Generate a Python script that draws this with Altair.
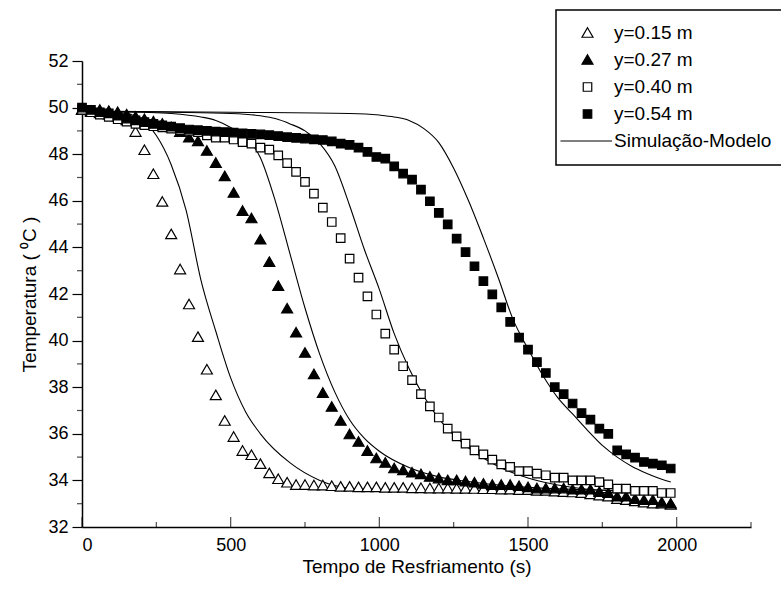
import altair as alt
import pandas as pd

# ---------------- data ----------------
time_s = [0, 30, 60, 90, 120, 150, 180, 210, 240, 270, 300, 330, 360, 390, 420, 450,
          480, 510, 540, 570, 600, 630, 660, 690, 720, 750, 780, 810, 840, 870, 900,
          930, 960, 990, 1020, 1050, 1080, 1110, 1140, 1170, 1200, 1230, 1260, 1290,
          1320, 1350, 1380, 1410, 1440, 1470, 1500, 1530, 1560, 1590, 1620, 1650, 1680,
          1710, 1740, 1770, 1800, 1830, 1860, 1890, 1920, 1950, 1980]

temp_015 = [49.9, 49.8, 49.75, 49.7, 49.6, 49.45, 48.95, 48.17, 47.14, 45.95, 44.56,
            43.05, 41.55, 40.15, 38.75, 37.65, 36.55, 35.86, 35.26, 35.08, 34.7, 34.3,
            34.05, 33.9, 33.8, 33.8, 33.78, 33.78, 33.75, 33.72, 33.72, 33.7, 33.7, 33.7,
            33.68, 33.68, 33.68, 33.66, 33.66, 33.65, 33.65, 33.65, 33.64, 33.64, 33.63,
            33.62, 33.62, 33.6, 33.6, 33.58, 33.58, 33.55, 33.55, 33.52, 33.5, 33.48,
            33.45, 33.4, 33.35, 33.3, 33.2, 33.15, 33.1, 33.05, 33.0, 33.0, 32.95]

temp_027 = [49.9, 49.85, 49.9, 49.85, 49.8, 49.7, 49.6, 49.5, 49.4, 49.3, 49.15, 48.95,
            48.71, 48.55, 48.14, 47.62, 47.05, 46.34, 45.56, 45.24, 44.33, 43.37, 42.34,
            41.37, 40.34, 39.47, 38.55, 37.75, 37.15, 36.55, 35.97, 35.65, 35.26, 34.94,
            34.75, 34.51, 34.43, 34.33, 34.26, 34.15, 34.08, 34.0, 34.0, 33.95, 33.9,
            33.85, 33.8, 33.8, 33.8, 33.75, 33.7, 33.65, 33.65, 33.65, 33.65, 33.6, 33.6,
            33.6, 33.5, 33.45, 33.3, 33.3, 33.2, 33.15, 33.15, 33.05, 33.0]

temp_040 = [49.9, 49.8, 49.7, 49.6, 49.5, 49.4, 49.3, 49.25, 49.2, 49.15, 49.1, 49.05,
            49.0, 48.95, 48.81, 48.71, 48.71, 48.63, 48.52, 48.45, 48.28, 48.2, 47.95,
            47.62, 47.24, 46.81, 46.31, 45.71, 45.09, 44.4, 43.52, 42.7, 41.9, 41.12,
            40.3, 39.61, 38.9, 38.3, 37.7, 37.18, 36.7, 36.22, 35.89, 35.58, 35.29,
            35.12, 34.89, 34.69, 34.58, 34.4, 34.4, 34.29, 34.22, 34.12, 34.12, 34.0,
            34.0, 34.0, 33.93, 33.83, 33.65, 33.65, 33.55, 33.55, 33.55, 33.46, 33.46]

temp_054 = [50.0, 49.9, 49.8, 49.75, 49.65, 49.53, 49.45, 49.38, 49.3, 49.24, 49.18,
            49.12, 49.06, 49.03, 49.0, 48.97, 48.95, 48.93, 48.9, 48.87, 48.85, 48.82,
            48.78, 48.73, 48.7, 48.67, 48.64, 48.61, 48.55, 48.45, 48.4, 48.28, 48.1,
            47.88, 47.81, 47.48, 47.17, 46.91, 46.48, 45.98, 45.48, 44.99, 44.38, 43.8,
            43.19, 42.55, 41.98, 41.43, 40.8, 40.13, 39.61, 39.08, 38.61, 38.0, 37.7,
            37.3, 36.89, 36.61, 36.22, 36.0, 35.29, 35.12, 34.98, 34.79, 34.72, 34.65,
            34.51]

series_names = ["y=0.15 m", "y=0.27 m", "y=0.40 m", "y=0.54 m"]
model_label = "Simulação-Modelo"

# simulation curves (model), read at anchor times
sim1_t = [0, 100, 150, 200, 250, 300, 350, 400, 450, 500, 550, 600, 700, 800, 900, 1000, 1500, 1980]
sim1_T = [49.85, 49.8, 49.75, 49.5, 48.8, 47.55, 45.6, 42.6, 40.4, 38.4, 36.95, 36.0, 34.75, 34.0, 33.65, 33.55, 33.5, 33.45]

sim2_t = [0, 200, 300, 400, 450, 500, 550, 600, 650, 700, 750, 800, 850, 900, 950, 1000, 1100, 1200, 1300, 1500, 1700, 1980]
sim2_T = [49.85, 49.8, 49.75, 49.6, 49.45, 49.15, 48.75, 47.85, 46.0, 43.7, 41.4, 39.4, 37.8, 36.6, 35.8, 35.25, 34.55, 34.15, 33.95, 33.7, 33.6, 33.5]

sim3_t = [0, 300, 500, 600, 650, 700, 750, 800, 850, 900, 950, 1000, 1050, 1100, 1150, 1200, 1250, 1300, 1400, 1500, 1600, 1700, 1800, 1980]
sim3_T = [49.85, 49.8, 49.75, 49.65, 49.53, 49.3, 49.0, 48.45, 47.5, 45.8, 43.9, 42.2, 40.3, 38.8, 37.6, 36.65, 35.95, 35.4, 34.6, 34.1, 33.8, 33.62, 33.55, 33.48]

sim4_t = [0, 500, 900, 1000, 1050, 1100, 1150, 1200, 1250, 1300, 1350, 1400, 1450, 1500, 1550, 1600, 1650, 1700, 1750, 1800, 1850, 1900, 1950, 1980]
sim4_T = [49.85, 49.8, 49.75, 49.68, 49.6, 49.45, 49.1, 48.5, 47.4, 46.0, 44.4, 42.7, 40.9, 39.65, 38.5, 37.55, 36.85, 36.15, 35.5, 35.0, 34.6, 34.3, 34.05, 33.93]

x_major = [0, 500, 1000, 1500, 2000]
x_minor = [250, 750, 1250, 1750, 2250]
y_major = [32, 34, 36, 38, 40, 42, 44, 46, 48, 50, 52]
y_minor = [33, 35, 37, 39, 41, 43, 45, 47, 49, 51]

# ---------------- tables ----------------
rows = []
for name, vals in zip(series_names, [temp_015, temp_027, temp_040, temp_054]):
    for t, v in zip(time_s, vals):
        rows.append({"t": t, "T": v, "serie": name})
points_df = pd.DataFrame(rows)

sim_rows = []
for k, (ts, vs) in enumerate([(sim1_t, sim1_T), (sim2_t, sim2_T), (sim3_t, sim3_T), (sim4_t, sim4_T)]):
    for t, v in zip(ts, vs):
        sim_rows.append({"t": t, "T": v, "curva": f"c{k}"})
sim_df = pd.DataFrame(sim_rows)

xmaj_df = pd.DataFrame({"t": x_major})
xmin_df = pd.DataFrame({"t": x_minor})
ymin_df = pd.DataFrame({"T": y_minor})

# ---------------- encodings ----------------
FONT = "Liberation Sans"
x_scale = alt.Scale(domain=[0, 2250], nice=False)
y_scale = alt.Scale(domain=[32, 52], nice=False)
x_axis = alt.Axis(values=x_major, title="Tempo de Resfriamento (s)", ticks=False,
                  labelPadding=9, titlePadding=3, format="d")
y_axis = alt.Axis(values=y_major, title="Temperatura ( ⁰C )", tickSize=10,
                  labelPadding=4, titlePadding=8, format="d")

tri = "M0,-1.05L1.1,0.85L-1.1,0.85Z"
sq = "M-0.85,-0.85L0.85,-0.85L0.85,0.85L-0.85,0.85Z"
line_sym = "M-5.4,0L4.9,0"
legend_domain = series_names + [model_label]
legend = alt.Legend(orient="none", legendX=474, legendY=-51, title=None)

X = alt.X("t:Q", scale=x_scale, axis=x_axis)
Y = alt.Y("T:Q", scale=y_scale, axis=y_axis)

lines = alt.Chart(sim_df).mark_line(color="black", strokeWidth=1.1, interpolate="monotone").encode(
    x=X, y=Y, detail="curva:N"
)

points = alt.Chart(points_df).mark_point(size=100, strokeWidth=1.2,
                                         opacity=1, fillOpacity=1, strokeOpacity=1).encode(
    x=X, y=Y,
    shape=alt.Shape("serie:N", scale=alt.Scale(domain=legend_domain,
                    range=[tri, tri, sq, sq, line_sym]), legend=legend),
    fill=alt.Fill("serie:N", scale=alt.Scale(domain=legend_domain,
                  range=["white", "black", "white", "black", "transparent"]), legend=legend),
    stroke=alt.Stroke("serie:N", scale=alt.Scale(domain=legend_domain,
                      range=["black", "black", "black", "black", "black"]), legend=legend),
)

xmaj_ticks = alt.Chart(xmaj_df).mark_tick(orient="vertical", size=10, thickness=1.2,
                                          yOffset=-5, color="black").encode(
    x=X, y=alt.Y(datum=32, scale=y_scale, axis=y_axis))
xmin_ticks = alt.Chart(xmin_df).mark_tick(orient="vertical", size=5, thickness=1.2,
                                          yOffset=-2.5, color="black").encode(
    x=X, y=alt.Y(datum=32, scale=y_scale, axis=y_axis))
ymin_ticks = alt.Chart(ymin_df).mark_tick(orient="horizontal", size=5, thickness=1.2,
                                          xOffset=-2.5, color="black").encode(
    x=alt.X(datum=0, scale=x_scale, axis=x_axis), y=Y)

chart = alt.layer(lines, points, xmaj_ticks, xmin_ticks, ymin_ticks).properties(
    width=669, height=466,
    autosize=alt.AutoSizeParams(type="none"),
    padding={"left": 82, "top": 61, "right": 30, "bottom": 65},
).configure_view(stroke=None).configure_axis(
    domainColor="black", domainWidth=1.5, tickColor="black", tickWidth=1.2,
    labelColor="black", titleColor="black", labelFont=FONT, titleFont=FONT,
    labelFontSize=18, titleFontSize=19, titleFontWeight="normal", grid=False,
).configure_legend(
    strokeColor="black", strokeWidth=1.5, fillColor="white", padding=13.5,
    rowPadding=7, symbolOffset=8.5, labelOffset=17, symbolSize=100,
    symbolStrokeWidth=1.2, symbolStrokeColor="black", labelFont=FONT,
    labelFontSize=19, labelColor="black", labelLimit=400, cornerRadius=0,
)

chart.save("out.html", embed_options={"renderer": "svg", "actions": False})
